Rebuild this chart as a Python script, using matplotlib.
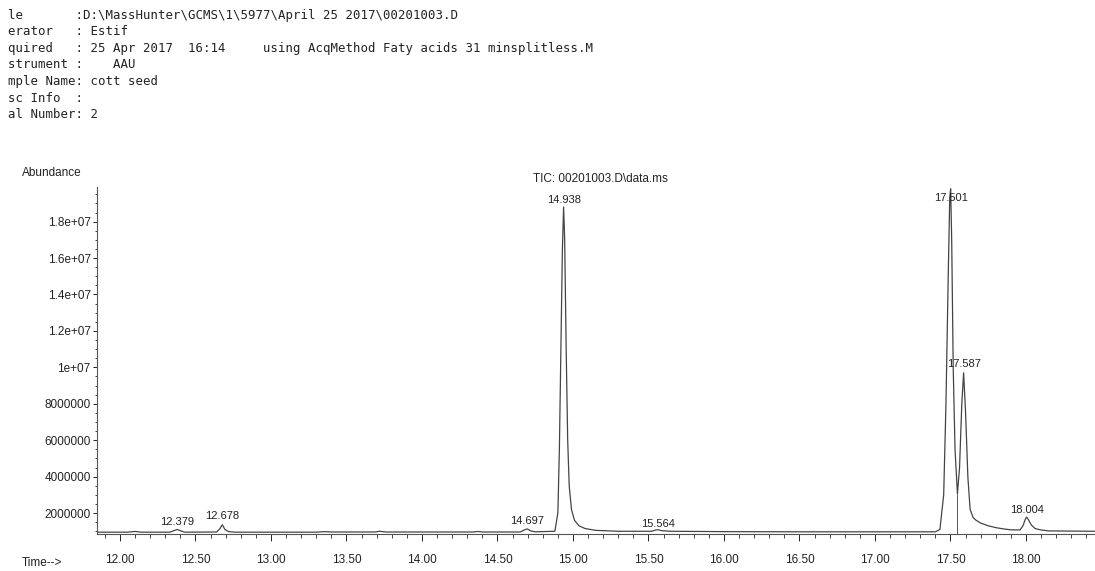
import matplotlib
matplotlib.use("Agg")
import matplotlib.pyplot as plt
from matplotlib.ticker import FixedLocator, MultipleLocator

time_min = [
    11.85, 12.05, 12.10, 12.14, 12.33, 12.36, 12.379, 12.40, 12.43,
    12.64, 12.66, 12.678, 12.695, 12.72, 12.76, 13.30, 13.35, 13.40,
    13.69, 13.72, 13.76, 14.34, 14.37, 14.40, 14.65, 14.68, 14.697,
    14.72, 14.75, 14.88, 14.90, 14.91, 14.92, 14.93, 14.938, 14.945,
    14.955, 14.965, 14.975, 14.99, 15.01, 15.04, 15.08, 15.15, 15.30,
    15.52, 15.55, 15.564, 15.59, 15.65, 16.00, 16.50, 17.00, 17.40,
    17.43, 17.455, 17.47, 17.485, 17.495, 17.501, 17.508, 17.518, 17.53,
    17.546, 17.56, 17.575, 17.587, 17.60, 17.615, 17.63, 17.65, 17.67,
    17.70, 17.75, 17.80, 17.85, 17.90, 17.96, 17.98, 17.995, 18.004,
    18.015, 18.035, 18.06, 18.10, 18.15, 18.46,
]
abundance = [
    0.95e6, 0.95e6, 0.99e6, 0.95e6, 0.95e6, 1.04e6, 1.10e6, 1.03e6, 0.95e6,
    0.96e6, 1.12e6, 1.36e6, 1.10e6, 0.98e6, 0.95e6, 0.95e6, 0.98e6, 0.96e6,
    0.96e6, 1.00e6, 0.96e6, 0.96e6, 0.99e6, 0.96e6, 0.96e6, 1.08e6, 1.13e6,
    1.02e6, 0.97e6, 1.00e6, 2.0e6, 5.5e6, 11.0e6, 16.5e6, 18.8e6, 17.0e6,
    11.0e6, 6.0e6, 3.5e6, 2.2e6, 1.6e6, 1.3e6, 1.15e6, 1.05e6, 1.00e6,
    1.00e6, 1.07e6, 1.08e6, 1.03e6, 1.00e6, 0.98e6, 0.97e6, 0.97e6, 0.97e6,
    1.10e6, 3.0e6, 8.0e6, 15.0e6, 19.3e6, 19.8e6, 17.0e6, 10.0e6, 5.5e6,
    3.05e6, 4.5e6, 8.0e6, 9.7e6, 7.5e6, 4.0e6, 2.2e6, 1.75e6, 1.6e6,
    1.45e6, 1.30e6, 1.20e6, 1.13e6, 1.08e6, 1.07e6, 1.30e6, 1.65e6, 1.78e6,
    1.65e6, 1.35e6, 1.15e6, 1.07e6, 1.02e6, 1.00e6,
]

peak_times = [12.379, 12.678, 14.697, 14.938, 15.564, 17.501, 17.587, 18.004]
peak_labels = ["12.379", "12.678", "14.697", "14.938", "15.564", "17.501", "17.587", "18.004"]
peak_label_y = [1.25e6, 1.57e6, 1.30e6, 1.89e7, 1.10e6, 1.90e7, 0.99e7, 1.9e6]

# línea de corte (integración) en el valle entre 17.501 y 17.587
drop_time = 17.546
drop_top = 3.05e6

xtick_values = [12.0, 12.5, 13.0, 13.5, 14.0, 14.5, 15.0, 15.5, 16.0, 16.5, 17.0, 17.5, 18.0]
xtick_labels = ["12.00", "12.50", "13.00", "13.50", "14.00", "14.50", "15.00",
                "15.50", "16.00", "16.50", "17.00", "17.50", "18.00"]
ytick_values = [2e6, 4e6, 6e6, 8e6, 1e7, 1.2e7, 1.4e7, 1.6e7, 1.8e7]
ytick_labels = ["2000000", "4000000", "6000000", "8000000", "1e+07",
                "1.2e+07", "1.4e+07", "1.6e+07", "1.8e+07"]

header_lines = [
    "le       :D:\\MassHunter\\GCMS\\1\\5977\\April 25 2017\\00201003.D",
    "erator   : Estif",
    "quired   : 25 Apr 2017  16:14     using AcqMethod Faty acids 31 minsplitless.M",
    "strument :    AAU",
    "mple Name: cott seed",
    "sc Info  :",
    "al Number: 2",
]

INK = "#222222"
W, H = 1095, 571

plt.rcParams["font.family"] = ["Liberation Sans", "DejaVu Sans"]

fig = plt.figure(figsize=(W / 100, H / 100), dpi=100, facecolor="white")
ax = fig.add_axes([97 / W, (H - 534) / H, (W - 97) / W, (534 - 187) / H])

ax.plot(time_min, abundance, color="#444444", linewidth=0.9)
ax.vlines(drop_time, 0.85e6, drop_top, color="#555555", linewidth=0.7)

for t, lab, yv in zip(peak_times, peak_labels, peak_label_y):
    ax.text(t, yv, lab, ha="center", va="bottom", fontsize=8, color=INK)

ax.set_xlim(11.848, 18.457)
ax.set_ylim(0.85e6, 1.99e7)

ax.xaxis.set_major_locator(FixedLocator(xtick_values))
ax.set_xticklabels(xtick_labels)
ax.xaxis.set_minor_locator(MultipleLocator(0.1))
ax.yaxis.set_major_locator(FixedLocator(ytick_values))
ax.set_yticklabels(ytick_labels)
ax.yaxis.set_minor_locator(MultipleLocator(5e5))

ax.tick_params(axis="both", which="major", labelsize=8.5, colors=INK,
               width=0.7, direction="out")
ax.tick_params(axis="x", which="major", length=5, pad=9.5)
ax.tick_params(axis="y", which="major", pad=1.5, length=3)
ax.tick_params(axis="both", which="minor", length=3, width=0.6, color=INK)
ax.tick_params(axis="y", which="minor", length=1.5)

ax.spines[["top", "right"]].set_visible(False)
ax.spines["left"].set_color("#555555")
ax.spines["bottom"].set_color("#555555")
ax.spines["left"].set_linewidth(0.8)
ax.spines["bottom"].set_linewidth(0.8)

fig.text(22 / W, 1 - 173 / H, "Abundance", fontsize=8.5, color=INK, va="center")
fig.text(22 / W, 1 - 563 / H, "Time-->", fontsize=8.5, color=INK, va="center")
fig.text(533 / W, 1 - 179 / H, "TIC: 00201003.D\\data.ms", fontsize=8.5,
         color=INK, va="center")

for i, line in enumerate(header_lines):
    fig.text(8 / W, 1 - (15 + i * 16.6) / H, line, fontsize=8.9,
             family=["DejaVu Sans Mono"], color=INK, va="center")

fig.savefig("out.png", dpi=100, facecolor="white")
